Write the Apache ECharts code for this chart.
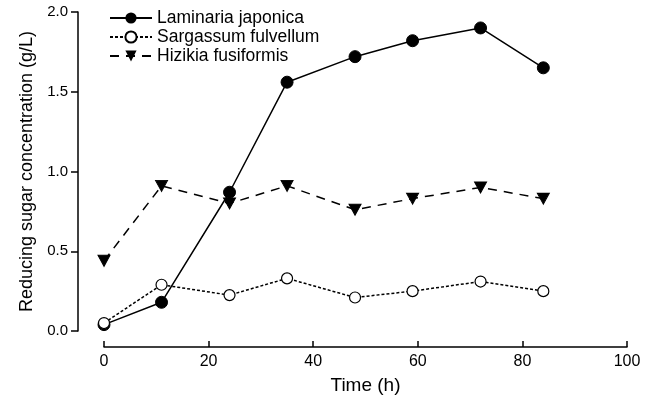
<!DOCTYPE html>
<html><head><meta charset="utf-8">
<script src="https://cdn.jsdelivr.net/npm/echarts@6/dist/echarts.min.js"></script>
<style>html,body{margin:0;padding:0;background:#fff}#c{width:652px;height:400px}</style>
</head><body><div id="c"></div>
<script>
const time = [0, 11, 24, 35, 48, 59, 72, 84];
const laminaria = [0.04, 0.18, 0.87, 1.56, 1.72, 1.82, 1.90, 1.65];
const sargassum = [0.05, 0.29, 0.225, 0.33, 0.21, 0.25, 0.31, 0.25];
const hizikia = [0.44, 0.91, 0.80, 0.91, 0.76, 0.83, 0.90, 0.83];
const seriesNames = ['Laminaria japonica', 'Sargassum fulvellum', 'Hizikia fusiformis'];
const xTicks = [0, 20, 40, 60, 80, 100];
const yTicks = [0.0, 0.5, 1.0, 1.5, 2.0];

const pairs = arr => time.map((t, i) => [t, arr[i]]);
const font = 'Liberation Sans, Arial, sans-serif';
const chart = echarts.init(document.getElementById('c'));
chart.setOption({
  animation: false,
  textStyle: { fontFamily: font, color: '#000' },
  grid: { left: 104, right: 25, top: 12, bottom: 67, containLabel: false },
  legend: {
    orient: 'vertical', left: 104, top: 4, itemWidth: 42, itemHeight: 14, itemGap: 1,
    textStyle: { fontSize: 17.5, fontFamily: font, color: '#000' },
    data: seriesNames
  },
  xAxis: {
    type: 'value', min: xTicks[0], max: xTicks[xTicks.length - 1], interval: 20, offset: 16,
    name: 'Time (h)', nameLocation: 'middle', nameGap: 29,
    nameTextStyle: { fontSize: 19, fontFamily: font, color: '#000' },
    axisLine: { onZero: false, lineStyle: { color: '#000', width: 1.5 } },
    axisTick: { inside: true, length: 6, lineStyle: { color: '#000', width: 1.5 } },
    axisLabel: { fontSize: 16, margin: 7, color: '#000', fontFamily: font },
    splitLine: { show: false }
  },
  yAxis: {
    type: 'value', min: yTicks[0], max: yTicks[yTicks.length - 1], interval: 0.5, offset: 26,
    name: 'Reducing sugar concentration (g/L)', nameLocation: 'middle', nameGap: 41,
    nameTextStyle: { fontSize: 18, fontFamily: font, color: '#000' },
    axisLine: { show: true, onZero: false, lineStyle: { color: '#000', width: 1.5 } },
    axisTick: { show: true, length: 7, lineStyle: { color: '#000', width: 1.5 } },
    axisLabel: { fontSize: 15, margin: 10, color: '#000', fontFamily: font, formatter: v => v.toFixed(1) },
    splitLine: { show: false }
  },
  series: [
    {
      name: seriesNames[0], type: 'line', data: pairs(laminaria),
      symbol: 'circle', symbolSize: 12,
      itemStyle: { color: '#000', borderColor: '#000' },
      lineStyle: { color: '#000', width: 1.5, type: 'solid' }, z: 3
    },
    {
      name: seriesNames[1], type: 'line', data: pairs(sargassum),
      symbol: 'circle', symbolSize: 11,
      itemStyle: { color: '#fff', borderColor: '#000', borderWidth: 1.2 },
      lineStyle: { color: '#000', width: 1.5, type: [3, 2] }, z: 4
    },
    {
      name: seriesNames[2], type: 'line', data: pairs(hizikia),
      symbol: 'triangle', symbolRotate: 180, symbolSize: [12, 11],
      itemStyle: { color: '#000', borderColor: '#000' },
      lineStyle: { color: '#000', width: 1.5, type: [9, 7] }, z: 2
    }
  ]
});
</script></body></html>
